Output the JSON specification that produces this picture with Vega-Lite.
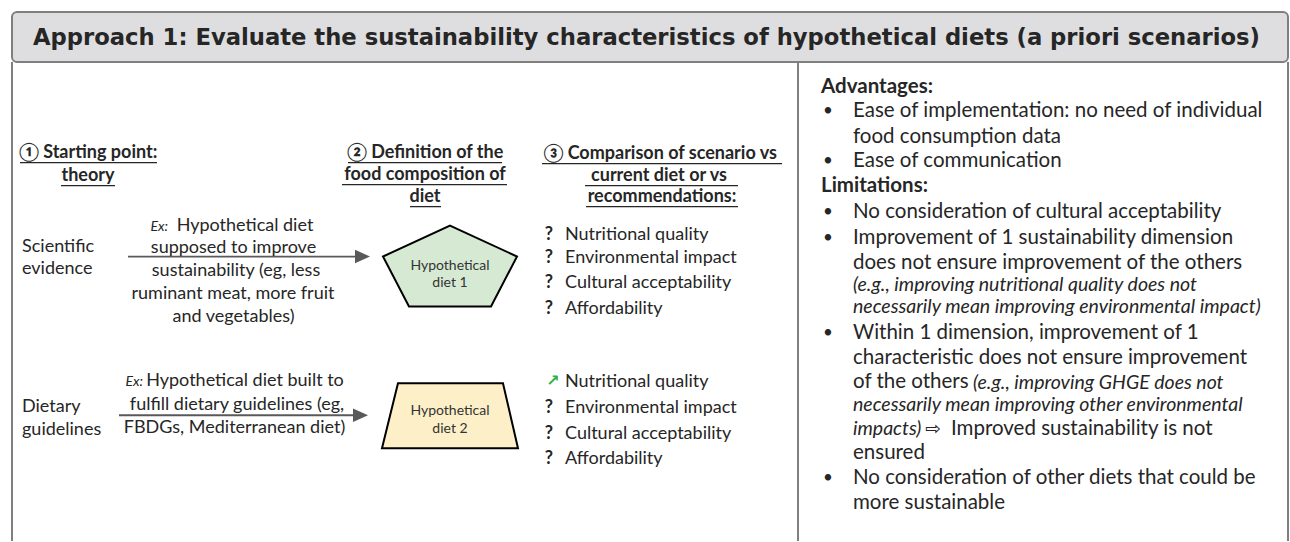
{
  "$schema": "https://vega.github.io/schema/vega-lite/v6.json",
  "width": 1290,
  "height": 542,
  "autosize": {"type": "fit", "contains": "padding"},
  "padding": 0,
  "background": "white",
  "config": {"view": {"stroke": null}},
  "encoding": {
    "x": {"field": "x", "type": "quantitative", "scale": {"domain": [0, 1290], "nice": false, "zero": false}, "axis": null},
    "y": {"field": "y", "type": "quantitative", "scale": {"domain": [0, 542], "nice": false, "zero": false, "reverse": true}, "axis": null}
  },
  "layer": [
    {
      "data": {"values": [{"x": 12, "x2": 1288, "y": 12, "y2": 62}]},
      "mark": {"type": "rect", "fill": "#dedee0", "stroke": "#7f7f7f", "strokeWidth": 2, "cornerRadius": 5},
      "encoding": {"x2": {"field": "x2"}, "y2": {"field": "y2"}}
    },
    {
      "data": {"values": [{"x": 12, "y": 62, "y2": 542}, {"x": 1288, "y": 62, "y2": 542}, {"x": 798, "y": 62, "y2": 542}]},
      "mark": {"type": "rule", "color": "#7f7f7f", "strokeWidth": 2},
      "encoding": {"y2": {"field": "y2"}}
    },
    {
      "data": {"values": [{"x": 128, "x2": 357, "y": 257}, {"x": 119, "x2": 355, "y": 416}]},
      "mark": {"type": "rule", "color": "#595959", "strokeWidth": 1.8},
      "encoding": {"x2": {"field": "x2"}}
    },
    {
      "data": {"values": [{"x": 362.5, "y": 257}, {"x": 360.5, "y": 416}]},
      "mark": {"type": "point", "shape": "M-1,-0.9L1,0L-1,0.9Z", "size": 225, "filled": true, "fill": "#595959", "opacity": 1, "strokeWidth": 0}
    },
    {
      "data": {"values": [{"x": 450, "y": 266.5}]},
      "mark": {"type": "point", "shape": "M0,-0.604L1,-0.142L0.612,0.604L-0.612,0.604L-1,-0.142Z", "size": 17956, "filled": true, "fill": "#d6e9d3", "stroke": "#000000", "strokeWidth": 2, "opacity": 1}
    },
    {
      "data": {"values": [{"x": 450, "y": 416.5}]},
      "mark": {"type": "point", "shape": "M-0.765,-0.478L0.779,-0.478L1,0.478L-1,0.478Z", "size": 18496, "filled": true, "fill": "#fdf0c8", "stroke": "#000000", "strokeWidth": 2, "opacity": 1}
    },
    {
      "data": {"values": [
        {"x": 20, "x2": 157, "y": 163},
        {"x": 61, "x2": 115, "y": 186},
        {"x": 348, "x2": 502, "y": 163},
        {"x": 342, "x2": 507, "y": 185},
        {"x": 410, "x2": 441, "y": 207},
        {"x": 542, "x2": 782, "y": 164},
        {"x": 585, "x2": 738, "y": 186},
        {"x": 586, "x2": 738, "y": 207}
      ]},
      "mark": {"type": "rule", "color": "#262626", "strokeWidth": 1.3},
      "encoding": {"x2": {"field": "x2"}}
    },
    {
      "data": {"values": [{"x": 33, "y": 38, "t": "Approach 1: Evaluate the sustainability characteristics of hypothetical diets (a priori scenarios)"}]},
      "mark": {"type": "text", "align": "left", "baseline": "middle", "font": "DejaVu Sans, sans-serif", "fontSize": 22.7, "fontWeight": "bold", "color": "#262626"},
      "encoding": {"text": {"field": "t"}}
    },
    {
      "data": {"values": [
        {"x": 88, "y": 153, "t": "① Starting point:"},
        {"x": 88, "y": 176, "t": "theory"},
        {"x": 425, "y": 153, "t": "② Definition of the"},
        {"x": 425, "y": 175, "t": "food composition of"},
        {"x": 425, "y": 197, "t": "diet"},
        {"x": 660, "y": 154, "t": "③ Comparison of scenario vs"},
        {"x": 659, "y": 176, "t": "current diet or vs"},
        {"x": 662, "y": 197, "t": "recommendations:"}
      ]},
      "mark": {"type": "text", "align": "center", "baseline": "middle", "font": "Lato, DejaVu Sans, sans-serif", "fontSize": 18, "fontWeight": "bold", "color": "#262626"},
      "encoding": {"text": {"field": "t"}}
    },
    {
      "data": {"values": [
        {"x": 245, "y": 226, "t": "Hypothetical diet"},
        {"x": 233.5, "y": 248, "t": "supposed to improve"},
        {"x": 236, "y": 271, "t": "sustainability (eg, less"},
        {"x": 233, "y": 295, "t": "ruminant meat, more fruit"},
        {"x": 233.5, "y": 318, "t": "and vegetables)"},
        {"x": 245, "y": 382, "t": "Hypothetical diet built to"},
        {"x": 237, "y": 406, "t": "fulfill dietary guidelines (eg,"},
        {"x": 234.5, "y": 429, "t": "FBDGs, Mediterranean diet)"}
      ]},
      "mark": {"type": "text", "align": "center", "baseline": "middle", "font": "Lato, DejaVu Sans, sans-serif", "fontSize": 18, "color": "#262626"},
      "encoding": {"text": {"field": "t"}}
    },
    {
      "data": {"values": [
        {"x": 168, "y": 227, "t": "Ex:"},
        {"x": 143, "y": 383, "t": "Ex:"}
      ]},
      "mark": {"type": "text", "align": "right", "baseline": "middle", "font": "Lato, DejaVu Sans, sans-serif", "fontSize": 14, "fontStyle": "italic", "color": "#262626"},
      "encoding": {"text": {"field": "t"}}
    },
    {
      "data": {"values": [
        {"x": 22, "y": 247, "t": "Scientific"},
        {"x": 22, "y": 269, "t": "evidence"},
        {"x": 22, "y": 408, "t": "Dietary"},
        {"x": 22, "y": 431, "t": "guidelines"},
        {"x": 565, "y": 235, "t": "Nutritional quality"},
        {"x": 565, "y": 258, "t": "Environmental impact"},
        {"x": 565, "y": 284, "t": "Cultural acceptability"},
        {"x": 565, "y": 310, "t": "Affordability"},
        {"x": 565, "y": 383, "t": "Nutritional quality"},
        {"x": 565, "y": 409, "t": "Environmental impact"},
        {"x": 565, "y": 435, "t": "Cultural acceptability"},
        {"x": 565, "y": 460, "t": "Affordability"}
      ]},
      "mark": {"type": "text", "align": "left", "baseline": "middle", "font": "Lato, DejaVu Sans, sans-serif", "fontSize": 18, "color": "#262626"},
      "encoding": {"text": {"field": "t"}}
    },
    {
      "data": {"values": [
        {"x": 549, "y": 235, "t": "?"},
        {"x": 549, "y": 258, "t": "?"},
        {"x": 549, "y": 284, "t": "?"},
        {"x": 549, "y": 310, "t": "?"},
        {"x": 549, "y": 409, "t": "?"},
        {"x": 549, "y": 435, "t": "?"},
        {"x": 549, "y": 460, "t": "?"}
      ]},
      "mark": {"type": "text", "align": "center", "baseline": "middle", "font": "Lato, DejaVu Sans, sans-serif", "fontSize": 18, "fontWeight": "bold", "color": "#262626"},
      "encoding": {"text": {"field": "t"}}
    },
    {
      "data": {"values": [{"x": 553, "y": 382, "t": "↗"}]},
      "mark": {"type": "text", "align": "center", "baseline": "middle", "font": "DejaVu Sans, sans-serif", "fontSize": 16, "fontWeight": "bold", "color": "#2eb04a"},
      "encoding": {"text": {"field": "t"}}
    },
    {
      "data": {"values": [
        {"x": 450, "y": 266, "t": "Hypothetical"},
        {"x": 450, "y": 284, "t": "diet 1"},
        {"x": 450, "y": 412, "t": "Hypothetical"},
        {"x": 450, "y": 430, "t": "diet 2"}
      ]},
      "mark": {"type": "text", "align": "center", "baseline": "middle", "font": "Lato, DejaVu Sans, sans-serif", "fontSize": 14, "color": "#333333"},
      "encoding": {"text": {"field": "t"}}
    },
    {
      "data": {"values": [
        {"x": 821, "y": 87, "t": "Advantages:"},
        {"x": 821, "y": 186, "t": "Limitations:"}
      ]},
      "mark": {"type": "text", "align": "left", "baseline": "middle", "font": "Lato, DejaVu Sans, sans-serif", "fontSize": 20.5, "fontWeight": "bold", "color": "#262626"},
      "encoding": {"text": {"field": "t"}}
    },
    {
      "data": {"values": [
        {"x": 853, "y": 111, "t": "Ease of implementation: no need of individual"},
        {"x": 853, "y": 137, "t": "food consumption data"},
        {"x": 853, "y": 161, "t": "Ease of communication"},
        {"x": 853, "y": 212, "t": "No consideration of cultural acceptability"},
        {"x": 853, "y": 238, "t": "Improvement of 1 sustainability dimension"},
        {"x": 853, "y": 263, "t": "does not ensure improvement of the others"},
        {"x": 853, "y": 334, "t": "Within 1 dimension, improvement of 1"},
        {"x": 853, "y": 359, "t": "characteristic does not ensure improvement"},
        {"x": 853, "y": 383, "t": "of the others"},
        {"x": 951, "y": 430, "t": "Improved sustainability is not"},
        {"x": 853, "y": 454, "t": "ensured"},
        {"x": 853, "y": 479, "t": "No consideration of other diets that could be"},
        {"x": 853, "y": 504, "t": "more sustainable"}
      ]},
      "mark": {"type": "text", "align": "left", "baseline": "middle", "font": "Lato, DejaVu Sans, sans-serif", "fontSize": 20.5, "color": "#262626"},
      "encoding": {"text": {"field": "t"}}
    },
    {
      "data": {"values": [
        {"x": 853, "y": 286, "t": "(e.g., improving nutritional quality does not"},
        {"x": 853, "y": 308, "t": "necessarily mean improving environmental impact)"},
        {"x": 973, "y": 384, "t": "(e.g., improving GHGE does not"},
        {"x": 853, "y": 406, "t": "necessarily mean improving other environmental"},
        {"x": 853, "y": 430, "t": "impacts)"}
      ]},
      "mark": {"type": "text", "align": "left", "baseline": "middle", "font": "Lato, DejaVu Sans, sans-serif", "fontSize": 19.5, "fontStyle": "italic", "color": "#262626"},
      "encoding": {"text": {"field": "t"}}
    },
    {
      "data": {"values": [{"x": 933, "y": 430, "t": "⇨"}]},
      "mark": {"type": "text", "align": "center", "baseline": "middle", "font": "DejaVu Sans, sans-serif", "fontSize": 19, "color": "#262626"},
      "encoding": {"text": {"field": "t"}}
    },
    {
      "data": {"values": [
        {"x": 828, "y": 111, "t": "•"},
        {"x": 828, "y": 161, "t": "•"},
        {"x": 828, "y": 212, "t": "•"},
        {"x": 828, "y": 238, "t": "•"},
        {"x": 828, "y": 334, "t": "•"},
        {"x": 828, "y": 479, "t": "•"}
      ]},
      "mark": {"type": "text", "align": "center", "baseline": "middle", "font": "Lato, DejaVu Sans, sans-serif", "fontSize": 17, "color": "#262626"},
      "encoding": {"text": {"field": "t"}}
    }
  ]
}
